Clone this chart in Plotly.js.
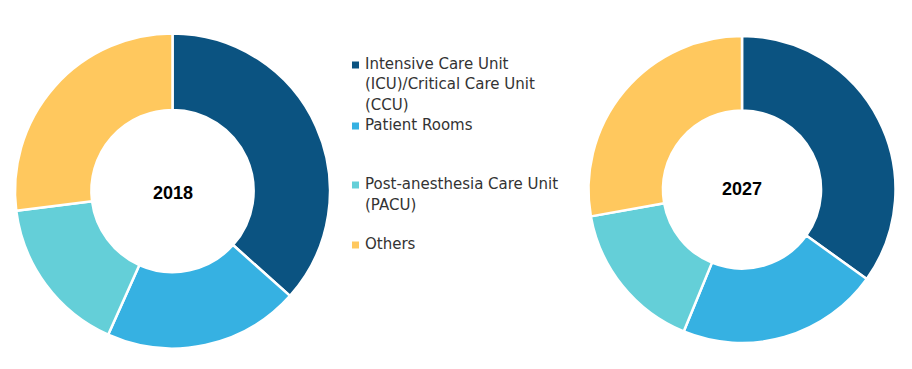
<!DOCTYPE html>
<html>
<head>
<meta charset="utf-8">
<script src="https://cdn.plot.ly/plotly-3.0.1.min.js"></script>
<style>html,body{margin:0;padding:0;background:#fff;}#chart{width:912px;height:369px;}</style>
</head>
<body>
<div id="chart"></div>
<script>
const labels = ["Intensive Care Unit (ICU)/Critical Care Unit (CCU)", "Patient Rooms", "Post-anesthesia Care Unit (PACU)", "Others"];
const legendLines = [["Intensive Care Unit", "(ICU)/Critical Care Unit", "(CCU)"], ["Patient Rooms"], ["Post-anesthesia Care Unit", "(PACU)"], ["Others"]];
const years = ["2018", "2027"];
const values2018 = [36.6, 20.1, 16.3, 27.0];
const values2027 = [34.9, 21.3, 16.0, 27.8];
const colors = ["#0B5381", "#36B1E2", "#64CFD8", "#FFC85E"];

const W = 912, H = 369;
const legendItemTop = [64, 125, 184, 244];
const lineH = 20.5;

function donut(vals, cx, cy, r) {
  return {
    type: "pie", values: vals, labels: labels, sort: false, direction: "clockwise", rotation: 0,
    hole: 0.515, textinfo: "none", hoverinfo: "label+percent", showlegend: false,
    marker: {colors: colors, line: {color: "#ffffff", width: 2.5}},
    domain: {x: [(cx - r) / W, (cx + r) / W], y: [(H - cy - r) / H, (H - cy + r) / H]}
  };
}

const data = [donut(values2018, 172.5, 191, 157.5), donut(values2027, 742, 189.5, 153.5)];

const annotations = [
  {text: "<b>" + years[0] + "</b>", x: 172.5 / W, y: 1 - 193 / H, xref: "paper", yref: "paper", showarrow: false, xanchor: "center", yanchor: "middle", font: {family: "Liberation Sans, Arial, sans-serif", size: 18, color: "#000"}},
  {text: "<b>" + years[1] + "</b>", x: 742 / W, y: 1 - 189 / H, xref: "paper", yref: "paper", showarrow: false, xanchor: "center", yanchor: "middle", font: {family: "Liberation Sans, Arial, sans-serif", size: 18, color: "#000"}}
];
const shapes = [];
legendLines.forEach((lines, i) => {
  lines.forEach((t, j) => {
    annotations.push({text: t, x: 363 / W, y: 1 - (legendItemTop[i] + j * lineH) / H, xref: "paper", yref: "paper", showarrow: false, xanchor: "left", yanchor: "middle", font: {family: "DejaVu Sans, sans-serif", size: 15, color: "#333333"}});
  });
  const cyp = legendItemTop[i] + 1;
  shapes.push({type: "rect", xref: "paper", yref: "paper", x0: 352 / W, x1: 359 / W, y0: 1 - (cyp + 3.5) / H, y1: 1 - (cyp - 3.5) / H, fillcolor: colors[i], line: {width: 0}});
});

const layout = {
  width: W, height: H, margin: {l: 0, r: 0, t: 0, b: 0}, paper_bgcolor: "#fff", plot_bgcolor: "#fff",
  showlegend: false, annotations: annotations, shapes: shapes
};
Plotly.newPlot("chart", data, layout, {displayModeBar: false, staticPlot: true});
</script>
</body>
</html>
